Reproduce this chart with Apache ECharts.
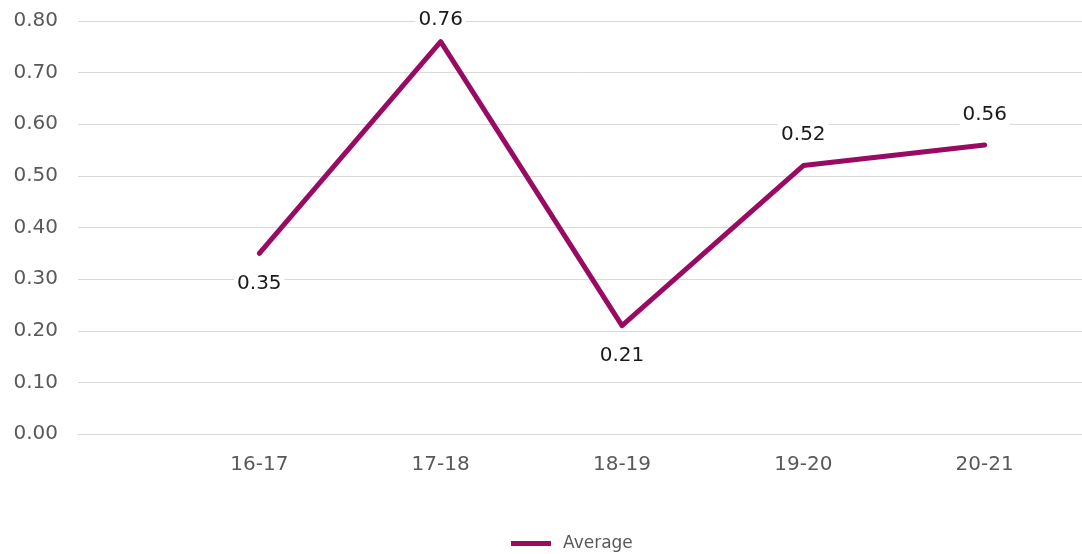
<!DOCTYPE html>
<html>
<head>
<meta charset="utf-8">
<script src="https://cdn.jsdelivr.net/npm/echarts@6/dist/echarts.min.js"></script>
<style>
  html, body { margin: 0; padding: 0; background: #fff; }
  #chart { width: 1082px; height: 554px; }
</style>
</head>
<body>
<div id="chart"></div>
<script>
// empty slots at both ends (the plot is cropped on the right)
const categories = ['', '16-17', '17-18', '18-19', '19-20', '20-21', ''];
const averageValues = [null, 0.35, 0.76, 0.21, 0.52, 0.56, null];
const labelPositions = [null, 'bottom', 'top', 'bottom', 'top', 'top', null];
const yTicks = [0, 0.1, 0.2, 0.3, 0.4, 0.5, 0.6, 0.7, 0.8];

const lineColor = '#990B62';
const axisText = '#595959';

const seriesData = averageValues.map((v, i) => ({
  value: v,
  label: {
    position: labelPositions[i] || 'top',
    distance: i === 2 ? 10 : 19,
  },
}));

const chart = echarts.init(document.getElementById('chart'));
chart.setOption({
  animation: false,
  textStyle: { fontFamily: 'DejaVu Sans' },
  grid: {
    left: 78,
    top: 21,
    width: 1088,
    height: 413,
    containLabel: false,
    outerBoundsMode: 'none',
  },
  legend: {
    data: ['Average'],
    bottom: -3,
    left: 506,
    itemWidth: 40,
    itemHeight: 5,
    icon: 'rect',
    textStyle: {
      color: axisText,
      fontSize: 17,
      fontFamily: 'DejaVu Sans',
      padding: [0, 0, 0, 7],
    },
  },
  xAxis: {
    type: 'category',
    data: categories,
    boundaryGap: false,
    axisLine: { lineStyle: { color: '#d9d9d9', width: 1 } },
    axisTick: { show: false },
    axisLabel: { color: axisText, fontSize: 20, margin: 21 },
  },
  yAxis: {
    type: 'value',
    min: yTicks[0],
    max: yTicks[yTicks.length - 1],
    interval: 0.1,
    axisLine: { show: false },
    axisTick: { show: false },
    axisLabel: {
      color: axisText,
      fontSize: 20,
      margin: 20,
      formatter: (v) => v.toFixed(2),
    },
    splitLine: { lineStyle: { color: '#d9d9d9', width: 1 } },
  },
  series: [
    {
      name: 'Average',
      type: 'line',
      data: seriesData,
      symbol: 'circle',
      symbolSize: 1,
      showSymbol: true,
      lineStyle: { color: lineColor, width: 5, cap: 'round', join: 'round' },
      itemStyle: { color: lineColor },
      label: {
        show: true,
        color: '#1a1a1a',
        fontSize: 20,
        backgroundColor: '#fff',
        padding: [1, 3],
        formatter: (p) => (p.value == null ? '' : Number(p.value).toFixed(2)),
      },
    },
  ],
});
</script>
</body>
</html>
